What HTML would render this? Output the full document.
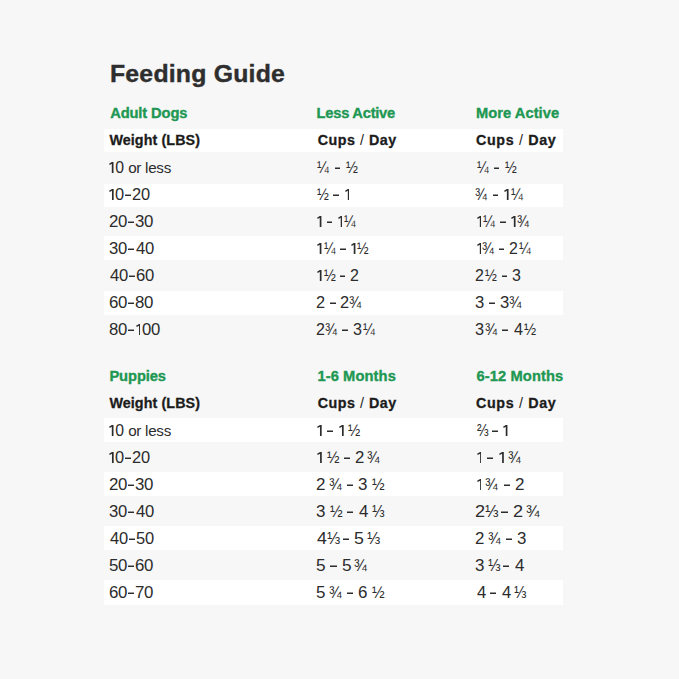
<!DOCTYPE html>
<html><head><meta charset="utf-8"><style>
html,body{margin:0;padding:0;}
body{width:679px;height:679px;background:#f7f7f7;position:relative;overflow:hidden;font-family:"Liberation Sans",sans-serif;}
div,b,svg{position:absolute;white-space:nowrap;line-height:30px;}
.title{font-weight:bold;color:#2e2e2e;-webkit-text-stroke:0.4px #2e2e2e;}
.hdr{font-weight:bold;color:#209752;-webkit-text-stroke:0.35px #209752;}
.bold{font-weight:bold;color:#1c1c1c;-webkit-text-stroke:0.3px #1c1c1c;}
.reg{color:#2c2c2c;}
.sl{font-weight:normal;-webkit-text-stroke:0;}
.band{left:104px;width:459px;background:#fff;}
.d{width:5.6px;height:1px;background:#2c2c2c;box-shadow:0 -1px 0 rgba(44,44,44,0.5);}
.hy{width:6.0px;height:1px;background:#2c2c2c;box-shadow:0 -1px 0 rgba(44,44,44,0.45);}
</style></head><body>
<div class="band" style="top:129px;height:23px"></div>
<div class="band" style="top:184px;height:23px"></div>
<div class="band" style="top:236px;height:24px"></div>
<div class="band" style="top:291px;height:24px"></div>
<div class="band" style="top:418px;height:24px"></div>
<div class="band" style="top:472px;height:24px"></div>
<div class="band" style="top:526px;height:24px"></div>
<div class="band" style="top:580px;height:25px"></div>
<div class="title" style="left:110.00px;top:59px;font-size:24.8px;letter-spacing:0.217px">Feeding Guide</div>
<div class="hdr" style="left:110.20px;top:98px;font-size:14.7px;letter-spacing:-0.122px">Adult Dogs</div>
<div class="hdr" style="left:316.60px;top:98px;font-size:14.7px;letter-spacing:-0.250px">Less Active</div>
<div class="hdr" style="left:476.00px;top:98px;font-size:14.7px;letter-spacing:0.040px">More Active</div>
<div class="hdr" style="left:109.40px;top:361px;font-size:14.7px;letter-spacing:-0.083px">Puppies</div>
<div class="hdr" style="left:317.40px;top:361px;font-size:14.7px;letter-spacing:0.100px">1-6 Months</div>
<div class="hdr" style="left:476.40px;top:361px;font-size:14.7px;letter-spacing:0.120px">6-12 Months</div>
<div class="bold" style="left:109.40px;top:125px;font-size:14.3px;letter-spacing:0.100px">Weight (LBS)</div>
<div class="bold" style="left:317.80px;top:125px;font-size:14.3px;letter-spacing:0.489px">Cups <span class="sl">/</span> Day</div>
<div class="bold" style="left:476.00px;top:125px;font-size:14.3px;letter-spacing:0.656px">Cups <span class="sl">/</span> Day</div>
<svg class="one" style="left:109.30px;top:162.10px" width="4.5" height="10.9" viewBox="0 0 4.5 10.9"><polygon points="4.5,0 2.8,0 0.1,1.75 0.75,2.95 2.8,1.75 2.8,10.9 4.5,10.9" fill="#2c2c2c"/></svg>
<div class="reg" style="left:115.20px;top:153.00px;font-size:15.8px;letter-spacing:0.000px;">0</div>
<div class="reg" style="left:128.20px;top:153.00px;font-size:15.2px;letter-spacing:-0.283px;">or less</div>
<div class="reg" style="left:317.30px;top:153.00px;font-size:16.0px;letter-spacing:0.000px;transform:scaleX(0.8912);transform-origin:0 0;">¼</div>
<b class="d" style="left:334.52px;top:168.00px;width:5.67px"></b>
<div class="reg" style="left:345.86px;top:153.00px;font-size:16.0px;letter-spacing:0.000px;transform:scaleX(0.8912);transform-origin:0 0;">½</div>
<div class="reg" style="left:476.50px;top:153.00px;font-size:16.0px;letter-spacing:0.000px;transform:scaleX(0.8800);transform-origin:0 0;">¼</div>
<b class="d" style="left:493.50px;top:168.00px;width:5.60px"></b>
<div class="reg" style="left:504.70px;top:153.00px;font-size:16.0px;letter-spacing:0.000px;transform:scaleX(0.8800);transform-origin:0 0;">½</div>
<svg class="one" style="left:109.30px;top:189.10px" width="4.676701570680628" height="10.9" viewBox="0 0 4.676701570680628 10.9"><polygon points="4.676701570680628,0 2.9767015706806275,0 0.1,1.75 0.75,2.95 2.9767015706806275,1.75 2.9767015706806275,10.9 4.676701570680628,10.9" fill="#2c2c2c"/></svg>
<div class="reg" style="left:115.22px;top:180.00px;font-size:15.8px;letter-spacing:0.000px;transform:scaleX(1.0393);transform-origin:0 0;">0</div>
<b class="hy" style="left:124.89px;top:195.00px;width:6.24px"></b>
<div class="reg" style="left:131.75px;top:180.00px;font-size:15.8px;letter-spacing:0.000px;transform:scaleX(1.0393);transform-origin:0 0;">2</div>
<div class="reg" style="left:140.69px;top:180.00px;font-size:15.8px;letter-spacing:0.000px;transform:scaleX(1.0393);transform-origin:0 0;">0</div>
<div class="reg" style="left:317.30px;top:180.00px;font-size:16.0px;letter-spacing:0.000px;transform:scaleX(0.8856);transform-origin:0 0;">½</div>
<b class="d" style="left:333.40px;top:195.00px;width:5.64px"></b>
<svg class="one" style="left:344.67px;top:189.10px" width="4.528391167192426" height="10.9" viewBox="0 0 4.528391167192426 10.9"><polygon points="4.528391167192426,0 2.828391167192426,0 0.1,1.75 0.75,2.95 2.828391167192426,1.75 2.828391167192426,10.9 4.528391167192426,10.9" fill="#2c2c2c"/></svg>
<div class="reg" style="left:475.48px;top:180.00px;font-size:16.0px;letter-spacing:0.000px;transform:scaleX(0.8935);transform-origin:0 0;">¾</div>
<b class="d" style="left:492.75px;top:195.00px;width:5.69px"></b>
<svg class="one" style="left:504.12px;top:189.10px" width="4.569230769230774" height="10.9" viewBox="0 0 4.569230769230774 10.9"><polygon points="4.569230769230774,0 2.869230769230774,0 0.1,1.75 0.75,2.95 2.869230769230774,1.75 2.869230769230774,10.9 4.569230769230774,10.9" fill="#2c2c2c"/></svg>
<div class="reg" style="left:510.52px;top:180.00px;font-size:16.0px;letter-spacing:0.000px;transform:scaleX(0.8935);transform-origin:0 0;">¼</div>
<div class="reg" style="left:108.73px;top:207.00px;font-size:15.8px;letter-spacing:0.000px;transform:scaleX(1.0673);transform-origin:0 0;">2</div>
<div class="reg" style="left:117.91px;top:207.00px;font-size:15.8px;letter-spacing:0.000px;transform:scaleX(1.0673);transform-origin:0 0;">0</div>
<b class="hy" style="left:127.84px;top:222.00px;width:6.40px"></b>
<div class="reg" style="left:134.88px;top:207.00px;font-size:15.8px;letter-spacing:0.000px;transform:scaleX(1.0673);transform-origin:0 0;">3</div>
<div class="reg" style="left:144.06px;top:207.00px;font-size:15.8px;letter-spacing:0.000px;transform:scaleX(1.0673);transform-origin:0 0;">0</div>
<svg class="one" style="left:317.30px;top:216.10px" width="4.430769230769228" height="10.9" viewBox="0 0 4.430769230769228 10.9"><polygon points="4.430769230769228,0 2.730769230769228,0 0.1,1.75 0.75,2.95 2.730769230769228,1.75 2.730769230769228,10.9 4.430769230769228,10.9" fill="#2c2c2c"/></svg>
<b class="d" style="left:326.65px;top:222.00px;width:5.51px"></b>
<svg class="one" style="left:337.68px;top:216.10px" width="4.430769230769228" height="10.9" viewBox="0 0 4.430769230769228 10.9"><polygon points="4.430769230769228,0 2.730769230769228,0 0.1,1.75 0.75,2.95 2.730769230769228,1.75 2.730769230769228,10.9 4.430769230769228,10.9" fill="#2c2c2c"/></svg>
<div class="reg" style="left:343.88px;top:207.00px;font-size:16.0px;letter-spacing:0.000px;transform:scaleX(0.8665);transform-origin:0 0;">¼</div>
<svg class="one" style="left:476.50px;top:216.10px" width="4.543436293436288" height="10.9" viewBox="0 0 4.543436293436288 10.9"><polygon points="4.543436293436288,0 2.8434362934362882,0 0.1,1.75 0.75,2.95 2.8434362934362882,1.75 2.8434362934362882,10.9 4.543436293436288,10.9" fill="#2c2c2c"/></svg>
<div class="reg" style="left:482.86px;top:207.00px;font-size:16.0px;letter-spacing:0.000px;transform:scaleX(0.8885);transform-origin:0 0;">¼</div>
<b class="d" style="left:500.02px;top:222.00px;width:5.65px"></b>
<svg class="one" style="left:511.33px;top:216.10px" width="4.543436293436288" height="10.9" viewBox="0 0 4.543436293436288 10.9"><polygon points="4.543436293436288,0 2.8434362934362882,0 0.1,1.75 0.75,2.95 2.8434362934362882,1.75 2.8434362934362882,10.9 4.543436293436288,10.9" fill="#2c2c2c"/></svg>
<div class="reg" style="left:516.68px;top:207.00px;font-size:16.0px;letter-spacing:0.000px;transform:scaleX(0.8885);transform-origin:0 0;">¾</div>
<div class="reg" style="left:108.75px;top:234.00px;font-size:15.8px;letter-spacing:0.000px;transform:scaleX(1.0535);transform-origin:0 0;">3</div>
<div class="reg" style="left:117.81px;top:234.00px;font-size:15.8px;letter-spacing:0.000px;transform:scaleX(1.0535);transform-origin:0 0;">0</div>
<b class="hy" style="left:127.60px;top:249.00px;width:6.32px"></b>
<div class="reg" style="left:135.61px;top:234.00px;font-size:15.8px;letter-spacing:0.000px;transform:scaleX(1.0535);transform-origin:0 0;">4</div>
<div class="reg" style="left:144.67px;top:234.00px;font-size:15.8px;letter-spacing:0.000px;transform:scaleX(1.0535);transform-origin:0 0;">0</div>
<svg class="one" style="left:317.30px;top:243.10px" width="4.43050193050193" height="10.9" viewBox="0 0 4.43050193050193 10.9"><polygon points="4.43050193050193,0 2.73050193050193,0 0.1,1.75 0.75,2.95 2.73050193050193,1.75 2.73050193050193,10.9 4.43050193050193,10.9" fill="#2c2c2c"/></svg>
<div class="reg" style="left:323.50px;top:234.00px;font-size:16.0px;letter-spacing:0.000px;transform:scaleX(0.8664);transform-origin:0 0;">¼</div>
<b class="d" style="left:340.24px;top:249.00px;width:5.51px"></b>
<svg class="one" style="left:351.27px;top:243.10px" width="4.43050193050193" height="10.9" viewBox="0 0 4.43050193050193 10.9"><polygon points="4.43050193050193,0 2.73050193050193,0 0.1,1.75 0.75,2.95 2.73050193050193,1.75 2.73050193050193,10.9 4.43050193050193,10.9" fill="#2c2c2c"/></svg>
<div class="reg" style="left:357.47px;top:234.00px;font-size:16.0px;letter-spacing:0.000px;transform:scaleX(0.8664);transform-origin:0 0;">½</div>
<svg class="one" style="left:476.50px;top:243.10px" width="4.516574585635359" height="10.9" viewBox="0 0 4.516574585635359 10.9"><polygon points="4.516574585635359,0 2.816574585635359,0 0.1,1.75 0.75,2.95 2.816574585635359,1.75 2.816574585635359,10.9 4.516574585635359,10.9" fill="#2c2c2c"/></svg>
<div class="reg" style="left:481.82px;top:234.00px;font-size:16.0px;letter-spacing:0.000px;transform:scaleX(0.8832);transform-origin:0 0;">¾</div>
<b class="d" style="left:498.88px;top:249.00px;width:5.62px"></b>
<div class="reg" style="left:509.12px;top:234.00px;font-size:15.8px;letter-spacing:0.000px;transform:scaleX(1.0037);transform-origin:0 0;">2</div>
<div class="reg" style="left:518.96px;top:234.00px;font-size:16.0px;letter-spacing:0.000px;transform:scaleX(0.8832);transform-origin:0 0;">¼</div>
<div class="reg" style="left:109.80px;top:261.00px;font-size:15.8px;letter-spacing:0.000px;transform:scaleX(1.0535);transform-origin:0 0;">4</div>
<div class="reg" style="left:118.86px;top:261.00px;font-size:15.8px;letter-spacing:0.000px;transform:scaleX(1.0535);transform-origin:0 0;">0</div>
<b class="hy" style="left:128.66px;top:276.00px;width:6.32px"></b>
<div class="reg" style="left:135.61px;top:261.00px;font-size:15.8px;letter-spacing:0.000px;transform:scaleX(1.0535);transform-origin:0 0;">6</div>
<div class="reg" style="left:144.67px;top:261.00px;font-size:15.8px;letter-spacing:0.000px;transform:scaleX(1.0535);transform-origin:0 0;">0</div>
<svg class="one" style="left:317.30px;top:270.10px" width="4.544444444444442" height="10.9" viewBox="0 0 4.544444444444442 10.9"><polygon points="4.544444444444442,0 2.8444444444444414,0 0.1,1.75 0.75,2.95 2.8444444444444414,1.75 2.8444444444444414,10.9 4.544444444444442,10.9" fill="#2c2c2c"/></svg>
<div class="reg" style="left:323.66px;top:261.00px;font-size:16.0px;letter-spacing:0.000px;transform:scaleX(0.8887);transform-origin:0 0;">½</div>
<b class="d" style="left:339.82px;top:276.00px;width:5.66px"></b>
<div class="reg" style="left:350.12px;top:261.00px;font-size:15.8px;letter-spacing:0.000px;transform:scaleX(1.0099);transform-origin:0 0;">2</div>
<div class="reg" style="left:475.49px;top:261.00px;font-size:15.8px;letter-spacing:0.000px;transform:scaleX(1.0093);transform-origin:0 0;">2</div>
<div class="reg" style="left:485.38px;top:261.00px;font-size:16.0px;letter-spacing:0.000px;transform:scaleX(0.8882);transform-origin:0 0;">½</div>
<b class="d" style="left:501.53px;top:276.00px;width:5.65px"></b>
<div class="reg" style="left:511.83px;top:261.00px;font-size:15.8px;letter-spacing:0.000px;transform:scaleX(1.0093);transform-origin:0 0;">3</div>
<div class="reg" style="left:108.73px;top:288.00px;font-size:15.8px;letter-spacing:0.000px;transform:scaleX(1.0673);transform-origin:0 0;">6</div>
<div class="reg" style="left:117.91px;top:288.00px;font-size:15.8px;letter-spacing:0.000px;transform:scaleX(1.0673);transform-origin:0 0;">0</div>
<b class="hy" style="left:127.84px;top:303.00px;width:6.40px"></b>
<div class="reg" style="left:134.88px;top:288.00px;font-size:15.8px;letter-spacing:0.000px;transform:scaleX(1.0673);transform-origin:0 0;">8</div>
<div class="reg" style="left:144.06px;top:288.00px;font-size:15.8px;letter-spacing:0.000px;transform:scaleX(1.0673);transform-origin:0 0;">0</div>
<div class="reg" style="left:316.27px;top:288.00px;font-size:15.8px;letter-spacing:0.000px;transform:scaleX(1.0349);transform-origin:0 0;">2</div>
<b class="d" style="left:329.72px;top:303.00px;width:5.80px"></b>
<div class="reg" style="left:340.27px;top:288.00px;font-size:15.8px;letter-spacing:0.000px;transform:scaleX(1.0349);transform-origin:0 0;">2</div>
<div class="reg" style="left:349.38px;top:288.00px;font-size:16.0px;letter-spacing:0.000px;transform:scaleX(0.9107);transform-origin:0 0;">¾</div>
<div class="reg" style="left:475.45px;top:288.00px;font-size:15.8px;letter-spacing:0.000px;transform:scaleX(1.0535);transform-origin:0 0;">3</div>
<b class="d" style="left:489.14px;top:303.00px;width:5.90px"></b>
<div class="reg" style="left:499.89px;top:288.00px;font-size:15.8px;letter-spacing:0.000px;transform:scaleX(1.0535);transform-origin:0 0;">3</div>
<div class="reg" style="left:509.16px;top:288.00px;font-size:16.0px;letter-spacing:0.000px;transform:scaleX(0.9271);transform-origin:0 0;">¾</div>
<div class="reg" style="left:108.64px;top:315.00px;font-size:15.8px;letter-spacing:0.000px;transform:scaleX(1.0577);transform-origin:0 0;">8</div>
<div class="reg" style="left:117.74px;top:315.00px;font-size:15.8px;letter-spacing:0.000px;transform:scaleX(1.0577);transform-origin:0 0;">0</div>
<b class="hy" style="left:127.57px;top:330.00px;width:6.35px"></b>
<svg class="one" style="left:135.61px;top:324.10px" width="4.759615384615383" height="10.9" viewBox="0 0 4.759615384615383 10.9"><polygon points="4.759615384615383,0 3.059615384615383,0 0.1,1.75 0.75,2.95 3.059615384615383,1.75 3.059615384615383,10.9 4.759615384615383,10.9" fill="#2c2c2c"/></svg>
<div class="reg" style="left:141.64px;top:315.00px;font-size:15.8px;letter-spacing:0.000px;transform:scaleX(1.0577);transform-origin:0 0;">0</div>
<div class="reg" style="left:150.74px;top:315.00px;font-size:15.8px;letter-spacing:0.000px;transform:scaleX(1.0577);transform-origin:0 0;">0</div>
<div class="reg" style="left:316.28px;top:315.00px;font-size:15.8px;letter-spacing:0.000px;transform:scaleX(1.0158);transform-origin:0 0;">2</div>
<div class="reg" style="left:325.22px;top:315.00px;font-size:16.0px;letter-spacing:0.000px;transform:scaleX(0.8939);transform-origin:0 0;">¾</div>
<b class="d" style="left:342.49px;top:330.00px;width:5.69px"></b>
<div class="reg" style="left:352.85px;top:315.00px;font-size:15.8px;letter-spacing:0.000px;transform:scaleX(1.0158);transform-origin:0 0;">3</div>
<div class="reg" style="left:362.81px;top:315.00px;font-size:16.0px;letter-spacing:0.000px;transform:scaleX(0.8939);transform-origin:0 0;">¼</div>
<div class="reg" style="left:475.47px;top:315.00px;font-size:15.8px;letter-spacing:0.000px;transform:scaleX(1.0299);transform-origin:0 0;">3</div>
<div class="reg" style="left:484.53px;top:315.00px;font-size:16.0px;letter-spacing:0.000px;transform:scaleX(0.9063);transform-origin:0 0;">¾</div>
<b class="d" style="left:502.04px;top:330.00px;width:5.77px"></b>
<div class="reg" style="left:513.58px;top:315.00px;font-size:15.8px;letter-spacing:0.000px;transform:scaleX(1.0299);transform-origin:0 0;">4</div>
<div class="reg" style="left:523.67px;top:315.00px;font-size:16.0px;letter-spacing:0.000px;transform:scaleX(0.9063);transform-origin:0 0;">½</div>
<div class="bold" style="left:109.40px;top:388px;font-size:14.3px;letter-spacing:0.100px">Weight (LBS)</div>
<div class="bold" style="left:317.80px;top:388px;font-size:14.3px;letter-spacing:0.489px">Cups <span class="sl">/</span> Day</div>
<div class="bold" style="left:476.00px;top:388px;font-size:14.3px;letter-spacing:0.656px">Cups <span class="sl">/</span> Day</div>
<svg class="one" style="left:109.30px;top:425.10px" width="4.5" height="10.9" viewBox="0 0 4.5 10.9"><polygon points="4.5,0 2.8,0 0.1,1.75 0.75,2.95 2.8,1.75 2.8,10.9 4.5,10.9" fill="#2c2c2c"/></svg>
<div class="reg" style="left:115.20px;top:416.00px;font-size:15.8px;letter-spacing:0.000px;">0</div>
<div class="reg" style="left:128.20px;top:416.00px;font-size:15.2px;letter-spacing:-0.283px;">or less</div>
<svg class="one" style="left:317.30px;top:425.10px" width="4.687041564792171" height="10.9" viewBox="0 0 4.687041564792171 10.9"><polygon points="4.687041564792171,0 2.987041564792171,0 0.1,1.75 0.75,2.95 2.987041564792171,1.75 2.987041564792171,10.9 4.687041564792171,10.9" fill="#2c2c2c"/></svg>
<b class="d" style="left:327.19px;top:431.00px;width:5.83px"></b>
<svg class="one" style="left:338.86px;top:425.10px" width="4.687041564792171" height="10.9" viewBox="0 0 4.687041564792171 10.9"><polygon points="4.687041564792171,0 2.987041564792171,0 0.1,1.75 0.75,2.95 2.987041564792171,1.75 2.987041564792171,10.9 4.687041564792171,10.9" fill="#2c2c2c"/></svg>
<div class="reg" style="left:348.44px;top:416.00px;font-size:16.0px;letter-spacing:0.000px;transform:scaleX(0.9166);transform-origin:0 0;">½</div>
<div class="reg" style="left:476.50px;top:416.00px;font-size:16.0px;letter-spacing:0.000px;transform:scaleX(0.8689);transform-origin:0 0;">⅔</div>
<b class="d" style="left:492.30px;top:431.00px;width:5.53px"></b>
<svg class="one" style="left:503.36px;top:425.10px" width="4.443217665615143" height="10.9" viewBox="0 0 4.443217665615143 10.9"><polygon points="4.443217665615143,0 2.743217665615143,0 0.1,1.75 0.75,2.95 2.743217665615143,1.75 2.743217665615143,10.9 4.443217665615143,10.9" fill="#2c2c2c"/></svg>
<svg class="one" style="left:109.30px;top:452.10px" width="4.676701570680628" height="10.9" viewBox="0 0 4.676701570680628 10.9"><polygon points="4.676701570680628,0 2.9767015706806275,0 0.1,1.75 0.75,2.95 2.9767015706806275,1.75 2.9767015706806275,10.9 4.676701570680628,10.9" fill="#2c2c2c"/></svg>
<div class="reg" style="left:115.22px;top:443.00px;font-size:15.8px;letter-spacing:0.000px;transform:scaleX(1.0393);transform-origin:0 0;">0</div>
<b class="hy" style="left:124.89px;top:458.00px;width:6.24px"></b>
<div class="reg" style="left:131.75px;top:443.00px;font-size:15.8px;letter-spacing:0.000px;transform:scaleX(1.0393);transform-origin:0 0;">2</div>
<div class="reg" style="left:140.69px;top:443.00px;font-size:15.8px;letter-spacing:0.000px;transform:scaleX(1.0393);transform-origin:0 0;">0</div>
<svg class="one" style="left:317.30px;top:452.10px" width="4.774111675126902" height="10.9" viewBox="0 0 4.774111675126902 10.9"><polygon points="4.774111675126902,0 3.074111675126902,0 0.1,1.75 0.75,2.95 3.074111675126902,1.75 3.074111675126902,10.9 4.774111675126902,10.9" fill="#2c2c2c"/></svg>
<div class="reg" style="left:327.06px;top:443.00px;font-size:16.0px;letter-spacing:0.000px;transform:scaleX(0.9336);transform-origin:0 0;">½</div>
<b class="d" style="left:344.04px;top:458.00px;width:5.94px"></b>
<div class="reg" style="left:354.86px;top:443.00px;font-size:15.8px;letter-spacing:0.000px;transform:scaleX(1.0609);transform-origin:0 0;">2</div>
<div class="reg" style="left:367.27px;top:443.00px;font-size:16.0px;letter-spacing:0.000px;transform:scaleX(0.9336);transform-origin:0 0;">¾</div>
<svg class="one" style="left:476.50px;top:452.10px" width="4.830073349633249" height="10.9" viewBox="0 0 4.830073349633249 10.9"><polygon points="4.830073349633249,0 3.130073349633249,0 0.1,1.75 0.75,2.95 3.130073349633249,1.75 3.130073349633249,10.9 4.830073349633249,10.9" fill="#2c2c2c"/></svg>
<b class="d" style="left:486.70px;top:458.00px;width:6.01px"></b>
<svg class="one" style="left:498.72px;top:452.10px" width="4.830073349633249" height="10.9" viewBox="0 0 4.830073349633249 10.9"><polygon points="4.830073349633249,0 3.130073349633249,0 0.1,1.75 0.75,2.95 3.130073349633249,1.75 3.130073349633249,10.9 4.830073349633249,10.9" fill="#2c2c2c"/></svg>
<div class="reg" style="left:507.52px;top:443.00px;font-size:16.0px;letter-spacing:0.000px;transform:scaleX(0.9445);transform-origin:0 0;">¾</div>
<div class="reg" style="left:108.73px;top:470.00px;font-size:15.8px;letter-spacing:0.000px;transform:scaleX(1.0673);transform-origin:0 0;">2</div>
<div class="reg" style="left:117.91px;top:470.00px;font-size:15.8px;letter-spacing:0.000px;transform:scaleX(1.0673);transform-origin:0 0;">0</div>
<b class="hy" style="left:127.84px;top:485.00px;width:6.40px"></b>
<div class="reg" style="left:134.88px;top:470.00px;font-size:15.8px;letter-spacing:0.000px;transform:scaleX(1.0673);transform-origin:0 0;">3</div>
<div class="reg" style="left:144.06px;top:470.00px;font-size:15.8px;letter-spacing:0.000px;transform:scaleX(1.0673);transform-origin:0 0;">0</div>
<div class="reg" style="left:316.23px;top:470.00px;font-size:15.8px;letter-spacing:0.000px;transform:scaleX(1.0731);transform-origin:0 0;">2</div>
<div class="reg" style="left:328.78px;top:470.00px;font-size:16.0px;letter-spacing:0.000px;transform:scaleX(0.9443);transform-origin:0 0;">¾</div>
<b class="d" style="left:347.02px;top:485.00px;width:6.01px"></b>
<div class="reg" style="left:357.97px;top:470.00px;font-size:15.8px;letter-spacing:0.000px;transform:scaleX(1.0731);transform-origin:0 0;">3</div>
<div class="reg" style="left:371.60px;top:470.00px;font-size:16.0px;letter-spacing:0.000px;transform:scaleX(0.9443);transform-origin:0 0;">½</div>
<svg class="one" style="left:476.50px;top:479.10px" width="4.842165898617516" height="10.9" viewBox="0 0 4.842165898617516 10.9"><polygon points="4.842165898617516,0 3.142165898617516,0 0.1,1.75 0.75,2.95 3.142165898617516,1.75 3.142165898617516,10.9 4.842165898617516,10.9" fill="#2c2c2c"/></svg>
<div class="reg" style="left:485.32px;top:470.00px;font-size:16.0px;letter-spacing:0.000px;transform:scaleX(0.9469);transform-origin:0 0;">¾</div>
<b class="d" style="left:503.62px;top:485.00px;width:6.03px"></b>
<div class="reg" style="left:514.59px;top:470.00px;font-size:15.8px;letter-spacing:0.000px;transform:scaleX(1.0760);transform-origin:0 0;">2</div>
<div class="reg" style="left:108.75px;top:497.00px;font-size:15.8px;letter-spacing:0.000px;transform:scaleX(1.0535);transform-origin:0 0;">3</div>
<div class="reg" style="left:117.81px;top:497.00px;font-size:15.8px;letter-spacing:0.000px;transform:scaleX(1.0535);transform-origin:0 0;">0</div>
<b class="hy" style="left:127.60px;top:512.00px;width:6.32px"></b>
<div class="reg" style="left:135.61px;top:497.00px;font-size:15.8px;letter-spacing:0.000px;transform:scaleX(1.0535);transform-origin:0 0;">4</div>
<div class="reg" style="left:144.67px;top:497.00px;font-size:15.8px;letter-spacing:0.000px;transform:scaleX(1.0535);transform-origin:0 0;">0</div>
<div class="reg" style="left:316.23px;top:497.00px;font-size:15.8px;letter-spacing:0.000px;transform:scaleX(1.0731);transform-origin:0 0;">3</div>
<div class="reg" style="left:329.85px;top:497.00px;font-size:16.0px;letter-spacing:0.000px;transform:scaleX(0.9443);transform-origin:0 0;">½</div>
<b class="d" style="left:347.02px;top:512.00px;width:6.01px"></b>
<div class="reg" style="left:359.04px;top:497.00px;font-size:15.8px;letter-spacing:0.000px;transform:scaleX(1.0731);transform-origin:0 0;">4</div>
<div class="reg" style="left:371.60px;top:497.00px;font-size:16.0px;letter-spacing:0.000px;transform:scaleX(0.9443);transform-origin:0 0;">⅓</div>
<div class="reg" style="left:475.35px;top:497.00px;font-size:15.8px;letter-spacing:0.000px;transform:scaleX(1.1462);transform-origin:0 0;">2</div>
<div class="reg" style="left:485.44px;top:497.00px;font-size:16.0px;letter-spacing:0.000px;transform:scaleX(1.0087);transform-origin:0 0;">⅓</div>
<b class="d" style="left:501.14px;top:512.00px;width:6.42px"></b>
<div class="reg" style="left:512.83px;top:497.00px;font-size:15.8px;letter-spacing:0.000px;transform:scaleX(1.1462);transform-origin:0 0;">2</div>
<div class="reg" style="left:526.25px;top:497.00px;font-size:16.0px;letter-spacing:0.000px;transform:scaleX(1.0087);transform-origin:0 0;">¾</div>
<div class="reg" style="left:110.20px;top:524.00px;font-size:15.8px;letter-spacing:0.000px;transform:scaleX(1.0438);transform-origin:0 0;">4</div>
<div class="reg" style="left:119.18px;top:524.00px;font-size:15.8px;letter-spacing:0.000px;transform:scaleX(1.0438);transform-origin:0 0;">0</div>
<b class="hy" style="left:128.88px;top:539.00px;width:6.26px"></b>
<div class="reg" style="left:135.77px;top:524.00px;font-size:15.8px;letter-spacing:0.000px;transform:scaleX(1.0438);transform-origin:0 0;">5</div>
<div class="reg" style="left:144.75px;top:524.00px;font-size:15.8px;letter-spacing:0.000px;transform:scaleX(1.0438);transform-origin:0 0;">0</div>
<div class="reg" style="left:317.30px;top:524.00px;font-size:15.8px;letter-spacing:0.000px;transform:scaleX(1.1227);transform-origin:0 0;">4</div>
<div class="reg" style="left:327.18px;top:524.00px;font-size:16.0px;letter-spacing:0.000px;transform:scaleX(0.9880);transform-origin:0 0;">⅓</div>
<b class="d" style="left:342.56px;top:539.00px;width:6.29px"></b>
<div class="reg" style="left:354.01px;top:524.00px;font-size:15.8px;letter-spacing:0.000px;transform:scaleX(1.1227);transform-origin:0 0;">5</div>
<div class="reg" style="left:367.15px;top:524.00px;font-size:16.0px;letter-spacing:0.000px;transform:scaleX(0.9880);transform-origin:0 0;">⅓</div>
<div class="reg" style="left:475.43px;top:524.00px;font-size:15.8px;letter-spacing:0.000px;transform:scaleX(1.0675);transform-origin:0 0;">2</div>
<div class="reg" style="left:487.92px;top:524.00px;font-size:16.0px;letter-spacing:0.000px;transform:scaleX(0.9394);transform-origin:0 0;">¾</div>
<b class="d" style="left:506.07px;top:539.00px;width:5.98px"></b>
<div class="reg" style="left:516.96px;top:524.00px;font-size:15.8px;letter-spacing:0.000px;transform:scaleX(1.0675);transform-origin:0 0;">3</div>
<div class="reg" style="left:108.73px;top:551.00px;font-size:15.8px;letter-spacing:0.000px;transform:scaleX(1.0673);transform-origin:0 0;">5</div>
<div class="reg" style="left:117.91px;top:551.00px;font-size:15.8px;letter-spacing:0.000px;transform:scaleX(1.0673);transform-origin:0 0;">0</div>
<b class="hy" style="left:127.84px;top:566.00px;width:6.40px"></b>
<div class="reg" style="left:134.88px;top:551.00px;font-size:15.8px;letter-spacing:0.000px;transform:scaleX(1.0673);transform-origin:0 0;">6</div>
<div class="reg" style="left:144.06px;top:551.00px;font-size:15.8px;letter-spacing:0.000px;transform:scaleX(1.0673);transform-origin:0 0;">0</div>
<div class="reg" style="left:316.21px;top:551.00px;font-size:15.8px;letter-spacing:0.000px;transform:scaleX(1.0915);transform-origin:0 0;">5</div>
<b class="d" style="left:330.40px;top:566.00px;width:6.11px"></b>
<div class="reg" style="left:341.53px;top:551.00px;font-size:15.8px;letter-spacing:0.000px;transform:scaleX(1.0915);transform-origin:0 0;">5</div>
<div class="reg" style="left:354.30px;top:551.00px;font-size:16.0px;letter-spacing:0.000px;transform:scaleX(0.9605);transform-origin:0 0;">¾</div>
<div class="reg" style="left:475.43px;top:551.00px;font-size:15.8px;letter-spacing:0.000px;transform:scaleX(1.0711);transform-origin:0 0;">3</div>
<div class="reg" style="left:487.96px;top:551.00px;font-size:16.0px;letter-spacing:0.000px;transform:scaleX(0.9426);transform-origin:0 0;">⅓</div>
<b class="d" style="left:502.63px;top:566.00px;width:6.00px"></b>
<div class="reg" style="left:514.63px;top:551.00px;font-size:15.8px;letter-spacing:0.000px;transform:scaleX(1.0711);transform-origin:0 0;">4</div>
<div class="reg" style="left:108.73px;top:578.00px;font-size:15.8px;letter-spacing:0.000px;transform:scaleX(1.0673);transform-origin:0 0;">6</div>
<div class="reg" style="left:117.91px;top:578.00px;font-size:15.8px;letter-spacing:0.000px;transform:scaleX(1.0673);transform-origin:0 0;">0</div>
<b class="hy" style="left:127.84px;top:593.00px;width:6.40px"></b>
<div class="reg" style="left:134.88px;top:578.00px;font-size:15.8px;letter-spacing:0.000px;transform:scaleX(1.0673);transform-origin:0 0;">7</div>
<div class="reg" style="left:144.06px;top:578.00px;font-size:15.8px;letter-spacing:0.000px;transform:scaleX(1.0673);transform-origin:0 0;">0</div>
<div class="reg" style="left:316.23px;top:578.00px;font-size:15.8px;letter-spacing:0.000px;transform:scaleX(1.0731);transform-origin:0 0;">5</div>
<div class="reg" style="left:328.78px;top:578.00px;font-size:16.0px;letter-spacing:0.000px;transform:scaleX(0.9443);transform-origin:0 0;">¾</div>
<b class="d" style="left:347.02px;top:593.00px;width:6.01px"></b>
<div class="reg" style="left:357.97px;top:578.00px;font-size:15.8px;letter-spacing:0.000px;transform:scaleX(1.0731);transform-origin:0 0;">6</div>
<div class="reg" style="left:371.60px;top:578.00px;font-size:16.0px;letter-spacing:0.000px;transform:scaleX(0.9443);transform-origin:0 0;">½</div>
<div class="reg" style="left:476.50px;top:578.00px;font-size:15.8px;letter-spacing:0.000px;transform:scaleX(1.0554);transform-origin:0 0;">4</div>
<b class="d" style="left:490.22px;top:593.00px;width:5.91px"></b>
<div class="reg" style="left:502.04px;top:578.00px;font-size:15.8px;letter-spacing:0.000px;transform:scaleX(1.0554);transform-origin:0 0;">4</div>
<div class="reg" style="left:514.39px;top:578.00px;font-size:16.0px;letter-spacing:0.000px;transform:scaleX(0.9288);transform-origin:0 0;">⅓</div>
</body></html>
